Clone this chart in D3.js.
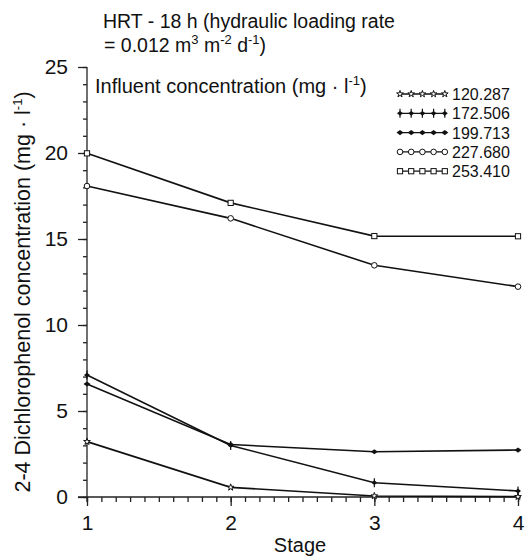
<!DOCTYPE html>
<head>
<meta charset="utf-8">
<script src="https://d3js.org/d3.v7.min.js"></script>
<style>
body { margin: 0; background: #fff; }
text { font-family: "Liberation Sans", Arial, sans-serif; fill: #111; }
.tick text { font-size: 21px; }
.tick line, path.domain { stroke: #222; stroke-width: 1.3; }
.legend text { font-size: 16px; }
.lbl { font-size: 20px; }
.title { font-size: 19.5px; }
.ylbl { font-size: 21.5px; }
.sup { font-size: 13px; }
</style>
</head>
<body>
<script>
const stages = [1, 2, 3, 4];
const seriesNames = ['120.287', '172.506', '199.713', '227.680', '253.410'];
const s120 = [3.22, 0.56, 0.06, 0.02];
const s172 = [7.09, 3.0, 0.83, 0.35];
const s199 = [6.57, 3.05, 2.63, 2.73];
const s227 = [18.08, 16.2, 13.47, 12.23];
const s253 = [19.98, 17.1, 15.17, 15.16];
const yTicks = [0, 5, 10, 15, 20, 25];
const xTicks = [1, 2, 3, 4];
const markers = ['star', 'diamondBar', 'diamond', 'circle', 'square'];

const series = [s120, s172, s199, s227, s253].map((v, i) => ({
  name: seriesNames[i], marker: markers[i],
  values: v.map((d, j) => ({ stage: stages[j], value: d }))
}));

const width = 526, height = 560;
const svg = d3.select('body').append('svg').attr('width', width).attr('height', height);

const x = d3.scaleLinear().domain([1, 4]).range([87, 518]);
const y = d3.scaleLinear().domain([0, 25]).range([497, 67]);

// axes: minor ticks first, then majors
svg.append('g').attr('transform', 'translate(0,497)')
  .call(d3.axisBottom(x).tickValues(d3.range(10, 41).map(d => d / 10)).tickSize(5).tickFormat(''))
  .call(g => g.select('.domain').attr('d', `M${x(1) - 9},0H${x(4) + 3}`));
svg.append('g').attr('transform', 'translate(0,497)')
  .call(d3.axisBottom(x).tickValues(xTicks).tickSize(9).tickPadding(9).tickFormat(d3.format('d')))
  .call(g => g.select('.domain').remove());

svg.append('g').attr('transform', 'translate(87,0)')
  .call(d3.axisLeft(y).tickValues(d3.range(0, 26)).tickSize(4).tickFormat(''))
  .call(g => g.select('.domain').attr('d', `M0,${y(0) + 5}V${y(25)}`));
svg.append('g').attr('transform', 'translate(87,0)')
  .call(d3.axisLeft(y).tickValues(yTicks).tickSize(9).tickPadding(10))
  .call(g => g.select('.domain').remove());

svg.append('text').attr('class', 'lbl').attr('x', 300).attr('y', 552).attr('text-anchor', 'middle')
  .text('Stage');

const yl = svg.append('text').attr('class', 'ylbl').attr('transform', 'translate(30,292) rotate(-90)')
  .attr('text-anchor', 'middle');
yl.append('tspan').text('2-4 Dichlorophenol concentration (mg · l');
yl.append('tspan').attr('class', 'sup').attr('dy', -8).text('-1');
yl.append('tspan').attr('dy', 8).text(')');

// title lines
svg.append('text').attr('class', 'title').attr('x', 103).attr('y', 28)
  .text('HRT - 18 h (hydraulic loading rate');
const t2 = svg.append('text').attr('class', 'title').attr('x', 104).attr('y', 52);
t2.append('tspan').text('= 0.012 m');
t2.append('tspan').attr('class', 'sup').attr('dy', -8).text('3');
t2.append('tspan').attr('dy', 8).text(' m');
t2.append('tspan').attr('class', 'sup').attr('dy', -8).text('-2');
t2.append('tspan').attr('dy', 8).text(' d');
t2.append('tspan').attr('class', 'sup').attr('dy', -8).text('-1');
t2.append('tspan').attr('dy', 8).text(')');

const t3 = svg.append('text').attr('class', 'lbl').attr('x', 95).attr('y', 93);
t3.append('tspan').text('Influent concentration (mg · l');
t3.append('tspan').attr('class', 'sup').attr('dy', -8).text('-1');
t3.append('tspan').attr('dy', 8).text(')');

function drawMarker(g, type, cx, cy) {
  if (type === 'circle') {
    g.append('circle').attr('cx', cx).attr('cy', cy).attr('r', 2.8)
      .attr('fill', '#fff').attr('stroke', '#111').attr('stroke-width', 1);
  } else if (type === 'square') {
    g.append('rect').attr('x', cx - 2.6).attr('y', cy - 2.6).attr('width', 5.2).attr('height', 5.2)
      .attr('fill', '#fff').attr('stroke', '#111').attr('stroke-width', 1);
  } else if (type === 'diamond') {
    g.append('path').attr('transform', `translate(${cx},${cy})`)
      .attr('d', 'M-3.5,0L0,-2.6L3.5,0L0,2.6Z').attr('fill', '#111');
  } else if (type === 'diamondBar') {
    g.append('path').attr('transform', `translate(${cx},${cy})`)
      .attr('d', 'M-3,0L0,-2.4L3,0L0,2.4Z').attr('fill', '#111');
    g.append('line').attr('x1', cx).attr('x2', cx).attr('y1', cy - 4.5).attr('y2', cy + 4.5)
      .attr('stroke', '#111').attr('stroke-width', 1.2);
  } else {
    g.append('path').attr('transform', `translate(${cx},${cy})`)
      .attr('d', d3.symbol().type(d3.symbolStar).size(14)())
      .attr('fill', '#fff').attr('stroke', '#111').attr('stroke-width', 1);
  }
}

const line = d3.line().x(d => x(d.stage)).y(d => y(d.value));
series.forEach(s => {
  const g = svg.append('g');
  g.append('path').datum(s.values).attr('d', line)
    .attr('fill', 'none').attr('stroke', '#111').attr('stroke-width', 1.6);
  s.values.forEach(d => drawMarker(g, s.marker, x(d.stage), y(d.value)));
});

// legend
const legend = svg.append('g').attr('class', 'legend');
series.forEach((s, i) => {
  const ly = 94 + i * 19.3;
  legend.append('line').attr('x1', 398).attr('x2', 447).attr('y1', ly).attr('y2', ly)
    .attr('stroke', '#111').attr('stroke-width', 1.3);
  d3.range(5).forEach(k => drawMarker(legend, s.marker, 400 + k * 11.2, ly));
  legend.append('text').attr('x', 452).attr('y', ly + 6).text(s.name);
});
</script>
</body>
